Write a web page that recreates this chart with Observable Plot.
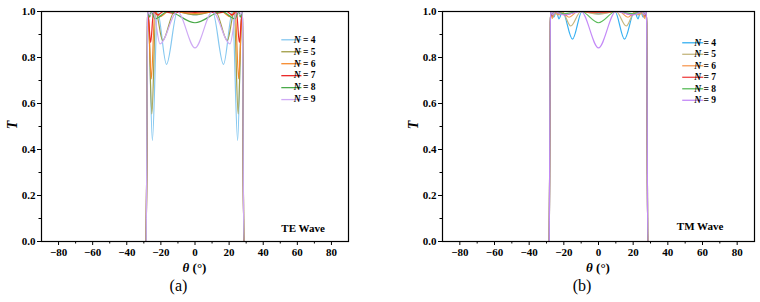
<!DOCTYPE html>
<html><head><meta charset="utf-8">
<script src="https://cdn.jsdelivr.net/npm/d3@7"></script>
<script src="https://cdn.jsdelivr.net/npm/@observablehq/plot@0.6"></script>
<style>
body{margin:0;background:#fff;}
#wrap{display:flex;width:760px;height:302px;}
</style></head><body><div id="wrap"></div>
<script>
const seriesN = [4, 5, 6, 7, 8, 9];
const colorsTE = ["#86c8f0", "#a09c44", "#f7892a", "#ea2a2a", "#4aaa4a", "#cfaaf5"];
const colorsTM = ["#35b0f2", "#c4b67e", "#f79a55", "#ef4444", "#58bb58", "#c48af7"];
const xMajor = [-80, -60, -40, -20, 0, 20, 40, 60, 80];
const xMinor = [-70, -50, -30, -10, 10, 30, 50, 70];
const yMajor = [0, 0.2, 0.4, 0.6, 0.8, 1.0];
const yMinor = [0.1, 0.3, 0.5, 0.7, 0.9];

// (a) TE wave
const te_theta_N4 = [-90,-28.6,-28.2,-27.8,-27.4,-25,-22,-16.7,-10.3,0,10.3,16.7,22,25,27.4,27.8,28.2,28.6,90];
const te_T_N4     = [0,0,0.5,0.95,1,0.44,1,0.77,1,0.985,1,0.77,1,0.44,1,0.95,0.5,0,0];
const te_theta_N5 = [-90,-28.6,-28.2,-27.8,-27.5,-25.3,-23,-19,-12,0,12,19,23,25.3,27.5,27.8,28.2,28.6,90];
const te_T_N5     = [0,0,0.5,0.95,1,0.555,1,0.874,1,0.986,1,0.874,1,0.555,1,0.95,0.5,0,0];
const te_theta_N6 = [-90,-28.6,-28.2,-27.8,-27.6,-25.6,-23.6,-20.5,-15.5,0,15.5,20.5,23.6,25.6,27.6,27.8,28.2,28.6,90];
const te_T_N6     = [0,0,0.5,0.95,1,0.707,1,0.978,1,0.992,1,0.978,1,0.707,1,0.95,0.5,0,0];
const te_theta_N7 = [-90,-28.6,-28.2,-27.9,-27.7,-26,-24.3,-22,-18.5,-13,-8,0,8,13,18.5,22,24.3,26,27.7,27.9,28.2,28.6,90];
const te_T_N7     = [0,0,0.5,0.95,1,0.866,1,0.985,1,0.993,1,0.996,1,0.993,1,0.985,1,0.866,1,0.95,0.5,0,0];
const te_theta_N8 = [-90,-28.6,-28.2,-27.9,-27.7,-26.6,-25.6,-23.5,-16,0,16,23.5,25.6,26.6,27.7,27.9,28.2,28.6,90];
const te_T_N8     = [0,0,0.5,0.95,1,0.975,1,0.968,1,0.951,1,0.968,1,0.975,1,0.95,0.5,0,0];
const te_theta_N9 = [-90,-28.6,-28.2,-27.9,-27.7,-26.3,-24.5,-20.5,-10.3,0,10.3,20.5,24.5,26.3,27.7,27.9,28.2,28.6,90];
const te_T_N9     = [0,0,0.5,0.95,1,0.985,1,0.859,1,0.842,1,0.859,1,0.985,1,0.95,0.5,0,0];

// (b) TM wave
const tm_theta_N4 = [-90,-28.4,-28.1,-27.8,-27.4,-25.8,-24.3,-22.8,-20.8,-15,-9.5,0,9.5,15,20.8,22.8,24.3,25.8,27.4,27.8,28.1,28.4,90];
const tm_T_N4     = [0,0,0.5,0.95,1,0.975,1,0.968,1,0.88,1,0.99,1,0.88,1,0.968,1,0.975,1,0.95,0.5,0,0];
const tm_theta_N5 = [-90,-28.4,-28.1,-27.8,-27.4,-26,-24.5,-22.6,-21,-16,-10.2,0,10.2,16,21,22.6,24.5,26,27.4,27.8,28.1,28.4,90];
const tm_T_N5     = [0,0,0.5,0.95,1,0.98,1,0.985,1,0.937,1,0.988,1,0.937,1,0.985,1,0.98,1,0.95,0.5,0,0];
const tm_theta_N6 = [-90,-28.4,-28.1,-27.8,-27.4,-26.6,-25.5,-23.5,-21.5,-17,-12,0,12,17,21.5,23.5,25.5,26.6,27.4,27.8,28.1,28.4,90];
const tm_T_N6     = [0,0,0.5,0.95,1,0.97,1,0.985,1,0.975,1,0.995,1,0.975,1,0.985,1,0.97,1,0.95,0.5,0,0];
const tm_theta_N7 = [-90,-28.4,-28.1,-27.8,-27.5,-26.8,-25.8,-19,-12,0,12,19,25.8,26.8,27.5,27.8,28.1,28.4,90];
const tm_T_N7     = [0,0,0.5,0.95,1,0.98,1,0.985,1,0.997,1,0.985,1,0.98,1,0.95,0.5,0,0];
const tm_theta_N8 = [-90,-28.4,-28.1,-27.8,-27.5,-26.6,-25.6,-20,-10,0,10,20,25.6,26.6,27.5,27.8,28.1,28.4,90];
const tm_T_N8     = [0,0,0.5,0.95,1,0.985,1,0.99,1,0.951,1,0.99,1,0.985,1,0.95,0.5,0,0];
const tm_theta_N9 = [-90,-28.4,-28.1,-27.8,-27.5,-26.4,-25.3,-20,-10,0,10,20,25.3,26.4,27.5,27.8,28.1,28.4,90];
const tm_T_N9     = [0,0,0.5,0.95,1,0.985,1,0.985,1,0.842,1,0.985,1,0.985,1,0.95,0.5,0,0];

const teSeries = [
  {theta: te_theta_N4, T: te_T_N4}, {theta: te_theta_N5, T: te_T_N5}, {theta: te_theta_N6, T: te_T_N6},
  {theta: te_theta_N7, T: te_T_N7}, {theta: te_theta_N8, T: te_T_N8}, {theta: te_theta_N9, T: te_T_N9}
];
const tmSeries = [
  {theta: tm_theta_N4, T: tm_T_N4}, {theta: tm_theta_N5, T: tm_T_N5}, {theta: tm_theta_N6, T: tm_T_N6},
  {theta: tm_theta_N7, T: tm_T_N7}, {theta: tm_theta_N8, T: tm_T_N8}, {theta: tm_theta_N9, T: tm_T_N9}
];

const FONT = "'Liberation Serif', 'Times New Roman', serif";

function makePanel(o) {
  const rows = [];
  o.series.forEach((s, i) => s.theta.forEach((t, j) => rows.push({theta: t, T: s.T[j], N: seriesN[i]})));
  const legendRows = seriesN.map((n, i) => ({N: n, y: o.legendY0 - i * o.legendStep}));
  const plot = Plot.plot({
    width: 380, height: 302,
    marginTop: 11, marginBottom: 61, marginLeft: o.marginLeft, marginRight: o.marginRight,
    style: {fontFamily: FONT, fontSize: "11px", fontWeight: "bold", color: "black", background: "white"},
    x: {domain: [-90, 90]},
    y: {domain: [0, 1]},
    color: {domain: seriesN, range: o.colors},
    marks: [
      Plot.axisX({ticks: xMinor, tickSize: 2.5, tickFormat: () => "", label: null}),
      Plot.axisX({ticks: xMajor, tickSize: 4, tickPadding: 3, label: null}),
      Plot.axisY({ticks: yMinor, tickSize: 2.5, tickFormat: () => "", label: null}),
      Plot.axisY({ticks: yMajor, tickSize: 4, tickPadding: 2, tickFormat: d3.format(".1f"), label: null}),
      Plot.line(rows, {x: "theta", y: "T", z: "N", stroke: "N", strokeWidth: 1.2, curve: "monotone-x"}),
      Plot.link(legendRows, {x1: () => o.legendX1, x2: () => o.legendX2, y1: "y", y2: "y", stroke: "N", strokeWidth: 1.3}),
      Plot.text([o.waveLabel], {x: () => o.waveX, y: () => o.waveY, text: d => d, textAnchor: "start", fontSize: 11, fontWeight: "bold"}),
      Plot.frame({stroke: "black", strokeWidth: 1.2})
    ]
  });
  const svg = d3.select(plot);
  const sx = plot.scale("x"), sy = plot.scale("y");
  legendRows.forEach(r => {
    const t = svg.append("text").attr("x", sx.apply(o.legendTextX)).attr("y", sy.apply(r.y))
      .attr("dy", "0.35em").attr("font-size", 9.5).attr("font-weight", "bold").attr("font-family", FONT);
    t.append("tspan").attr("font-style", "italic").text("N");
    t.append("tspan").text(" = " + r.N);
  });
  const xl = svg.append("text").attr("x", sx.apply(0)).attr("y", 272).attr("text-anchor", "middle")
    .attr("font-size", 13).attr("font-weight", "bold").attr("font-family", FONT);
  xl.append("tspan").attr("font-style", "italic").text("θ");
  xl.append("tspan").text(" (°)");
  svg.append("text").attr("transform", `translate(${o.marginLeft - 29},125) rotate(-90)`)
    .attr("text-anchor", "middle").attr("dy", "0.35em").attr("font-size", 14)
    .attr("font-weight", "bold").attr("font-style", "italic").attr("font-family", FONT).text("T");
  svg.append("text").attr("x", sx.apply(0) - 16).attr("y", 291).attr("text-anchor", "middle")
    .attr("font-size", 16).attr("font-weight", "normal").attr("font-family", FONT).text(o.tag);
  return plot;
}

const wrap = document.getElementById("wrap");
wrap.appendChild(makePanel({
  series: teSeries, colors: colorsTE, marginLeft: 41, marginRight: 32,
  legendX1: 50.6, legendX2: 62.4, legendTextX: 64.6, legendY0: 0.877, legendStep: 0.052,
  waveLabel: "TE Wave", waveX: 50.6, waveY: 0.057, tag: "(a)"
}));
wrap.appendChild(makePanel({
  series: tmSeries, colors: colorsTM, marginLeft: 62, marginRight: 6,
  legendX1: 48.3, legendX2: 60.4, legendTextX: 61.8, legendY0: 0.864, legendStep: 0.05,
  waveLabel: "TM Wave", waveX: 45.2, waveY: 0.064, tag: "(b)"
}));
</script></body></html>
